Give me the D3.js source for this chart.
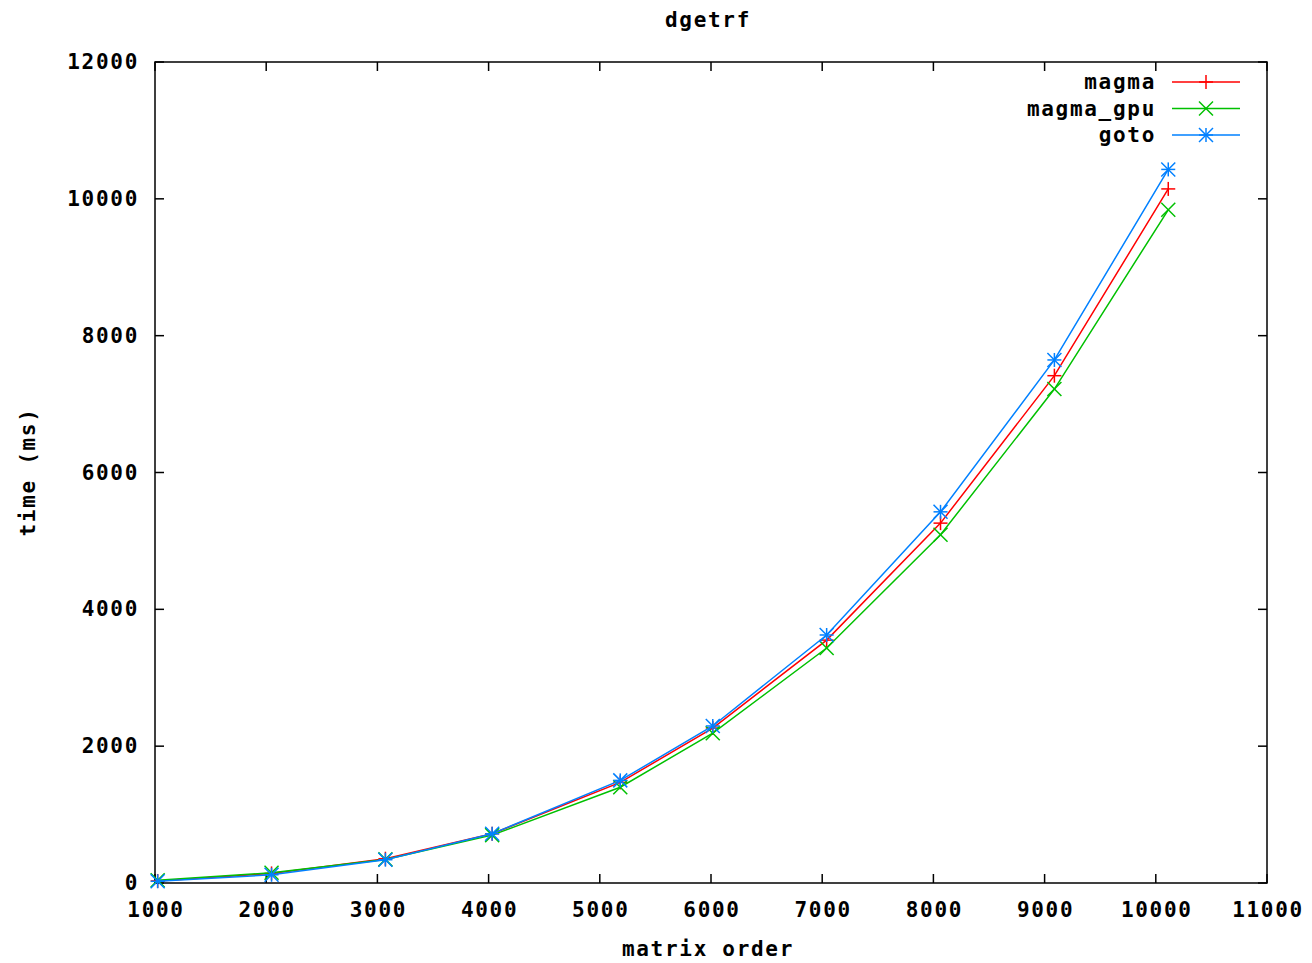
<!DOCTYPE html>
<html>
<head>
<meta charset="utf-8">
<script src="https://cdn.jsdelivr.net/npm/d3@7"></script>
<style>
  body { margin: 0; background: #fff; }
  text { font-family: "DejaVu Sans Mono", monospace; font-weight: bold; fill: #000; letter-spacing: 1.7px; }
</style>
</head>
<body>
<div id="chart"></div>
<script>
// matrix sizes and timings (ms)
var sizes = [1024, 2048, 3072, 4032, 5184, 6016, 7040, 8064, 9088, 10112];
var magma = [30, 140, 355, 720, 1470, 2265, 3550, 5260, 7415, 10145];
var magmaGpu = [40, 150, 345, 700, 1400, 2190, 3435, 5090, 7220, 9840];
var gotoTimes = [25, 120, 340, 720, 1500, 2295, 3625, 5425, 7645, 10430];

var xTicks = [1000, 2000, 3000, 4000, 5000, 6000, 7000, 8000, 9000, 10000, 11000];
var yTicks = [0, 2000, 4000, 6000, 8000, 10000, 12000];

var series = [
    {name: "magma", values: magma, color: "#ff0000", marker: "plus"},
    {name: "magma_gpu", values: magmaGpu, color: "#00c000", marker: "cross"},
    {name: "goto", values: gotoTimes, color: "#0080ff", marker: "star"}
];

var width = 1312, height = 963;
var margin = {top: 62, right: 45, bottom: 80, left: 155};

var svg = d3.select("#chart").append("svg")
    .attr("width", width)
    .attr("height", height);

var x = d3.scaleLinear().domain([1000, 11000]).range([margin.left, width - margin.right]);
var y = d3.scaleLinear().domain([0, 12000]).range([height - margin.bottom, margin.top]);

var fontSize = 21;

// ticks (mirrored on all sides, pointing inward)
var tickLen = 9;
var g = svg.append("g").attr("stroke", "#000").attr("stroke-width", 1.5);
xTicks.forEach(function (t) {
    g.append("line").attr("x1", x(t)).attr("x2", x(t)).attr("y1", y(0)).attr("y2", y(0) - tickLen);
    g.append("line").attr("x1", x(t)).attr("x2", x(t)).attr("y1", y(12000)).attr("y2", y(12000) + tickLen);
});
yTicks.forEach(function (t) {
    g.append("line").attr("x1", x(1000)).attr("x2", x(1000) + tickLen).attr("y1", y(t)).attr("y2", y(t));
    g.append("line").attr("x1", x(11000)).attr("x2", x(11000) - tickLen).attr("y1", y(t)).attr("y2", y(t));
});

svg.selectAll(".xlab").data(xTicks).enter().append("text")
    .attr("x", function (d) { return x(d) + 1; })
    .attr("y", y(0) + 34)
    .attr("text-anchor", "middle")
    .style("font-size", fontSize + "px")
    .text(function (d) { return d; });

svg.selectAll(".ylab").data(yTicks).enter().append("text")
    .attr("x", x(1000) - 16)
    .attr("y", function (d) { return y(d) + 7; })
    .attr("text-anchor", "end")
    .style("font-size", fontSize + "px")
    .text(function (d) { return d; });

// frame
svg.append("rect")
    .attr("x", x(1000)).attr("y", y(12000))
    .attr("width", x(11000) - x(1000)).attr("height", y(0) - y(12000))
    .attr("fill", "none").attr("stroke", "#000").attr("stroke-width", 1.5);

// titles
svg.append("text").attr("x", 708).attr("y", 27).attr("text-anchor", "middle")
    .style("font-size", fontSize + "px").text("dgetrf");
svg.append("text").attr("x", 708).attr("y", 956).attr("text-anchor", "middle")
    .style("font-size", fontSize + "px").text("matrix order");
svg.append("text").attr("transform", "translate(35,472) rotate(-90)").attr("text-anchor", "middle")
    .style("font-size", fontSize + "px").text("time (ms)");

function drawMarker(sel, type, cx, cy, color) {
    var s = 7;
    var m = sel.append("g").attr("stroke", color).attr("stroke-width", 1.5);
    if (type === "plus" || type === "star") {
        m.append("line").attr("x1", cx - s).attr("x2", cx + s).attr("y1", cy).attr("y2", cy);
        m.append("line").attr("x1", cx).attr("x2", cx).attr("y1", cy - s).attr("y2", cy + s);
    }
    if (type === "cross" || type === "star") {
        m.append("line").attr("x1", cx - s).attr("x2", cx + s).attr("y1", cy - s).attr("y2", cy + s);
        m.append("line").attr("x1", cx - s).attr("x2", cx + s).attr("y1", cy + s).attr("y2", cy - s);
    }
}

var line = d3.line()
    .x(function (d) { return x(d[0]); })
    .y(function (d) { return y(d[1]); });

series.forEach(function (s, i) {
    var pts = sizes.map(function (v, j) { return [v, s.values[j]]; });
    svg.append("path")
        .datum(pts)
        .attr("d", line)
        .attr("fill", "none")
        .attr("stroke", s.color)
        .attr("stroke-width", 1.5);
    pts.forEach(function (p) {
        drawMarker(svg, s.marker, x(p[0]), y(p[1]), s.color);
    });

    // legend
    var ly = 82 + i * 26.5;
    svg.append("text").attr("x", 1156).attr("y", ly + 7).attr("text-anchor", "end")
        .style("font-size", fontSize + "px").text(s.name);
    svg.append("line").attr("x1", 1172).attr("x2", 1240).attr("y1", ly).attr("y2", ly)
        .attr("stroke", s.color).attr("stroke-width", 1.5);
    drawMarker(svg, s.marker, 1206, ly, s.color);
});
</script>
</body>
</html>
